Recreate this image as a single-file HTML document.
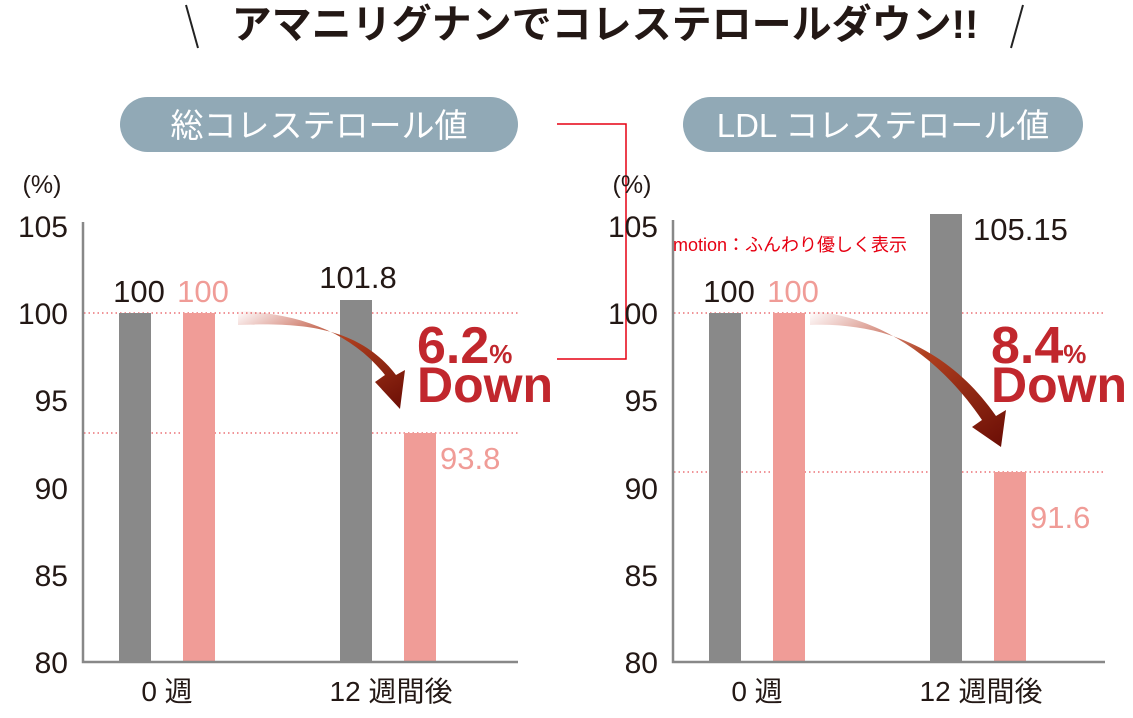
<!DOCTYPE html>
<html><head><meta charset="utf-8"><style>
body{margin:0;width:1133px;height:713px;background:#fff;overflow:hidden;font-family:"Liberation Sans","Noto Sans CJK JP",sans-serif}
svg text{font-family:"Liberation Sans","Noto Sans CJK JP",sans-serif}
</style></head><body>
<svg width="1133" height="713" viewBox="0 0 1133 713">
<defs>
<linearGradient id="g1" x1="0" y1="0" x2="1" y2="1"><stop offset="0" stop-color="#c0392b" stop-opacity="0"/><stop offset="0.45" stop-color="#b0401f"/><stop offset="1" stop-color="#6a0d05"/></linearGradient>
</defs>
<line x1="186" y1="5" x2="198" y2="48" stroke="#222" stroke-width="2"/>
<line x1="1023" y1="5" x2="1011" y2="48" stroke="#222" stroke-width="2"/>
<text x="605" y="38" font-size="40" font-weight="bold" text-anchor="middle" fill="#231815">アマニリグナンでコレステロールダウン!!</text>
<rect x="120" y="97" width="398" height="55" rx="27.5" fill="#91a9b6"/>
<text x="319" y="137" font-size="33" fill="#fff" text-anchor="middle">総コレステロール値</text>
<rect x="683" y="97" width="400" height="55" rx="27.5" fill="#91a9b6"/>
<text x="883" y="137" font-size="33" fill="#fff" text-anchor="middle">LDL コレステロール値</text>
<polyline points="557,124 626,124 626,359 557,359" fill="none" stroke="#e60012" stroke-width="1.5"/>
<g font-size="30" fill="#231815" text-anchor="end">
<text x="42" y="193" font-size="25" text-anchor="middle">(%)</text>
<text x="68" y="237">105</text><text x="68" y="324">100</text><text x="68" y="411">95</text><text x="68" y="499">90</text><text x="68" y="586">85</text><text x="68" y="673">80</text>
<text x="632" y="193" font-size="25" text-anchor="middle">(%)</text>
<text x="658" y="237">105</text><text x="658" y="324">100</text><text x="658" y="411">95</text><text x="658" y="499">90</text><text x="658" y="586">85</text><text x="658" y="673">80</text>
</g>
<g stroke="#e8545a" stroke-width="1.2" stroke-dasharray="1.5 3">
<line x1="84" y1="313" x2="518" y2="313"/><line x1="84" y1="433" x2="518" y2="433"/>
<line x1="674" y1="313" x2="1105" y2="313"/><line x1="674" y1="472" x2="1105" y2="472"/>
</g>
<rect x="119" y="313" width="32" height="349" fill="#898989"/>
<rect x="183" y="313" width="32" height="349" fill="#f09c97"/>
<rect x="340" y="300" width="32" height="362" fill="#898989"/>
<rect x="404" y="433" width="32" height="229" fill="#f09c97"/>
<rect x="709" y="313" width="32" height="349" fill="#898989"/>
<rect x="773" y="313" width="32" height="349" fill="#f09c97"/>
<rect x="930" y="214" width="32" height="448" fill="#898989"/>
<rect x="994" y="472" width="32" height="190" fill="#f09c97"/>
<g stroke="#888" stroke-width="2.5" fill="none">
<polyline points="83,222 83,662 518,662"/>
<polyline points="673,220 673,662 1105,662"/>
</g>
<path d="M238,311 C300,313 352,333 385,375 L375,382 L400,409 L405,370 L396,375 C360,328 305,322 238,325 Z" fill="url(#g1)"/>
<path d="M810,311 C880,316 940,358 982,420 L972,427 L1001,447 L1006,410 L996,416 C950,350 885,322 810,325 Z" fill="url(#g1)"/>
<g font-size="31">
<text x="139" y="302" fill="#231815" text-anchor="middle">100</text>
<text x="203" y="302" fill="#f09c97" text-anchor="middle">100</text>
<text x="358" y="288" fill="#231815" text-anchor="middle">101.8</text>
<text x="440" y="469" fill="#f09c97">93.8</text>
<text x="729" y="302" fill="#231815" text-anchor="middle">100</text>
<text x="793" y="302" fill="#f09c97" text-anchor="middle">100</text>
<text x="973" y="240" fill="#231815">105.15</text>
<text x="1030" y="528" fill="#f09c97">91.6</text>
</g>
<g fill="#c1272d" font-weight="bold">
<text x="417" y="363" font-size="52">6.2<tspan font-size="26">%</tspan></text>
<text x="417" y="402" font-size="50">Down</text>
<text x="991" y="363" font-size="52">8.4<tspan font-size="26">%</tspan></text>
<text x="991" y="402" font-size="50">Down</text>
</g>
<text x="673" y="251" font-size="18" fill="#e60012">motion：ふんわり優しく表示</text>
<g font-size="28" fill="#231815" text-anchor="middle">
<text x="167" y="701">0 週</text><text x="391" y="701">12 週間後</text>
<text x="757" y="701">0 週</text><text x="981" y="701">12 週間後</text>
</g>
</svg>
</body></html>
